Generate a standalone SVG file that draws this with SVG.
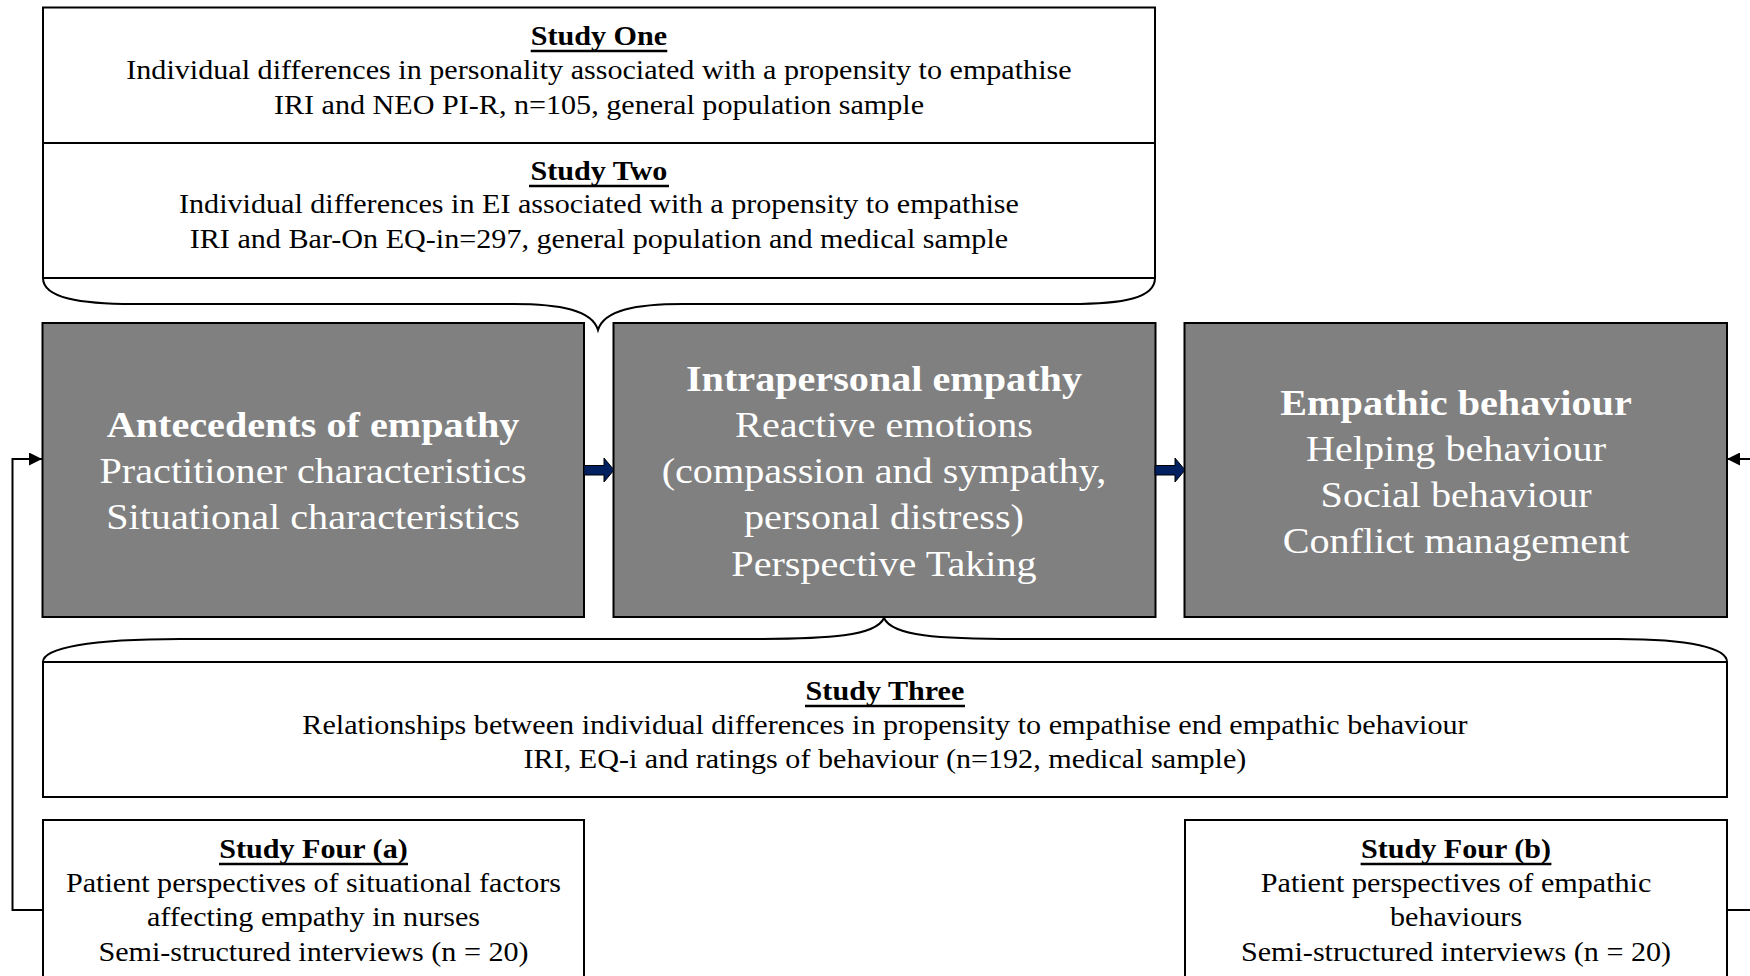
<svg xmlns="http://www.w3.org/2000/svg" width="1750" height="976" viewBox="0 0 1750 976">
<style>
.box{fill:#fff;stroke:#000;stroke-width:2}
.gray{fill:#808080;stroke:#000;stroke-width:2}
.t{font-family:"Liberation Serif","Times New Roman",serif;text-anchor:middle}
.n{font-size:27px;fill:#000}
.hd{font-size:27px;font-weight:bold;fill:#000}
.g{font-size:36px;fill:#fff}
.gb{font-size:36px;font-weight:bold;fill:#fff}
.ul{stroke:#000;stroke-width:2.5}
.brace{fill:none;stroke:#000;stroke-width:2}
.conn{fill:none;stroke:#000;stroke-width:2}
.blk{fill:#002060;stroke:#000;stroke-width:1}
</style>
<defs>
<marker id="ah" markerWidth="13" markerHeight="13" refX="13" refY="6.5" orient="auto" markerUnits="userSpaceOnUse">
<path d="M0,0 L13,6.5 L0,13 Z" fill="#000"/>
</marker>
</defs>

<g id="studies-one-two">
<rect class="box" x="43" y="7.5" width="1112" height="270.5"/>
<line x1="43" y1="143" x2="1155" y2="143" stroke="#000" stroke-width="2"/>
<g transform="scale(1.116,1)">
<text class="t hd" x="536.7" y="45">Study One</text>
<text class="t n" x="536.7" y="79">Individual differences in personality associated with a propensity to empathise</text>
<text class="t n" x="536.7" y="114">IRI and NEO PI-R, n=105, general population sample</text>
<text class="t hd" x="536.7" y="180">Study Two</text>
<text class="t n" x="536.7" y="213">Individual differences in EI associated with a propensity to empathise</text>
<text class="t n" x="536.7" y="248">IRI and Bar-On EQ-in=297, general population and medical sample</text>
</g>
<line class="ul" x1="530.7" y1="51" x2="667.3" y2="51"/>
<line class="ul" x1="529" y1="186" x2="669" y2="186"/>
</g>

<g id="antecedents">
<rect class="gray" x="42.5" y="323" width="541.5" height="294"/>
<g transform="scale(1.116,1)">
<text class="t gb" x="280.5" y="437">Antecedents of empathy</text>
<text class="t g" x="280.5" y="483">Practitioner characteristics</text>
<text class="t g" x="280.5" y="529">Situational characteristics</text>
</g>
</g>

<g id="intrapersonal">
<rect class="gray" x="613.5" y="323" width="542" height="294"/>
<g transform="scale(1.116,1)">
<text class="t gb" x="792.1" y="391">Intrapersonal empathy</text>
<text class="t g" x="792.1" y="437">Reactive emotions</text>
<text class="t g" x="792.1" y="483">(compassion and sympathy,</text>
<text class="t g" x="792.1" y="529">personal distress)</text>
<text class="t g" x="792.1" y="576">Perspective Taking</text>
</g>
</g>

<g id="empathic-behaviour">
<rect class="gray" x="1184.5" y="323" width="542.5" height="294"/>
<g transform="scale(1.116,1)">
<text class="t gb" x="1304.7" y="415">Empathic behaviour</text>
<text class="t g" x="1304.7" y="461">Helping behaviour</text>
<text class="t g" x="1304.7" y="507">Social behaviour</text>
<text class="t g" x="1304.7" y="553">Conflict management</text>
</g>
</g>

<g id="study-three">
<rect class="box" x="43" y="662" width="1684" height="135"/>
<g transform="scale(1.116,1)">
<text class="t hd" x="793" y="700">Study Three</text>
<text class="t n" x="793" y="734">Relationships between individual differences in propensity to empathise end empathic behaviour</text>
<text class="t n" x="793" y="768">IRI, EQ-i and ratings of behaviour (n=192, medical sample)</text>
</g>
<line class="ul" x1="805" y1="706" x2="965" y2="706"/>
</g>

<g id="study-four-a">
<rect class="box" x="43" y="820" width="541" height="200"/>
<g transform="scale(1.116,1)">
<text class="t hd" x="280.9" y="858">Study Four (a)</text>
<text class="t n" x="280.9" y="892">Patient perspectives of situational factors</text>
<text class="t n" x="280.9" y="926">affecting empathy in nurses</text>
<text class="t n" x="280.9" y="961">Semi-structured interviews (n = 20)</text>
</g>
<line class="ul" x1="219" y1="864" x2="408" y2="864"/>
</g>

<g id="study-four-b">
<rect class="box" x="1185" y="820" width="542" height="200"/>
<g transform="scale(1.116,1)">
<text class="t hd" x="1304.7" y="858">Study Four (b)</text>
<text class="t n" x="1304.7" y="892">Patient perspectives of empathic</text>
<text class="t n" x="1304.7" y="926">behaviours</text>
<text class="t n" x="1304.7" y="961">Semi-structured interviews (n = 20)</text>
</g>
<line class="ul" x1="1360.6" y1="864" x2="1551.4" y2="864"/>
</g>

<g id="connectors">
<path class="brace" d="M43,278 C43,298 80,304 134,304 H513 C560,304 592,310 598,330 C604,310 636,304 683,304 H1070 C1124,304 1155,298 1155,278"/>
<path class="brace" d="M43,662 C43,648 90,639 180,639 H750 C830,639 876,636 884,618 C892,636 938,639 1018,639 H1618 C1690,639 1727,648 1727,662"/>
<polygon class="blk" points="584,465.5 604,465.5 604,458 614,470 604,482 604,475 584,475"/>
<polygon class="blk" points="1155,465.5 1175,465.5 1175,458 1185,470 1175,482 1175,475 1155,475"/>
<path class="conn" d="M43,910 H12.5 V459 H42" marker-end="url(#ah)"/>
<path class="conn" d="M1727,910 H1772 V459 H1727" marker-end="url(#ah)"/>
</g>
</svg>
